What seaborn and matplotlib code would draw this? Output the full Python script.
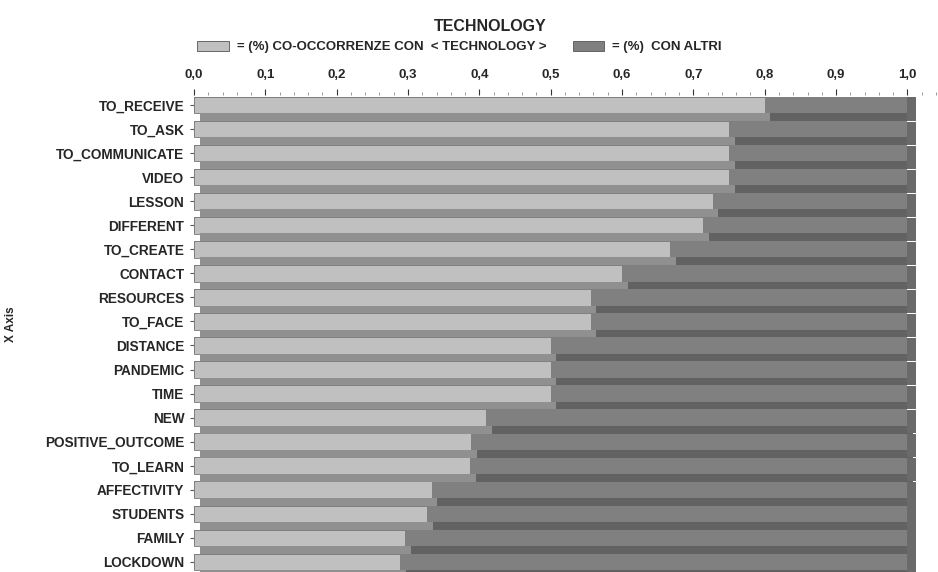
import matplotlib
matplotlib.use('Agg')
import matplotlib.pyplot as plt
import matplotlib.ticker as mticker
from matplotlib.patches import Patch
import seaborn as sns
import pandas as pd
import numpy as np

# Dati
parole = ['TO_RECEIVE', 'TO_ASK', 'TO_COMMUNICATE', 'VIDEO', 'LESSON', 'DIFFERENT',
          'TO_CREATE', 'CONTACT', 'RESOURCES', 'TO_FACE', 'DISTANCE', 'PANDEMIC',
          'TIME', 'NEW', 'POSITIVE_OUTCOME', 'TO_LEARN', 'AFFECTIVITY', 'STUDENTS',
          'FAMILY', 'LOCKDOWN']
cooccorrenze = [0.80, 0.75, 0.75, 0.75, 0.727, 0.714, 0.667, 0.60, 0.556, 0.556,
                0.50, 0.50, 0.50, 0.41, 0.389, 0.387, 0.333, 0.327, 0.296, 0.289]
altri = [round(1 - v, 3) for v in cooccorrenze]

df = pd.DataFrame({'Parola': parole, 'Technology': cooccorrenze, 'Altri': altri})
df['Totale'] = df['Technology'] + df['Altri']

sns.set_style('white')
plt.rcParams['font.family'] = ['Liberation Sans', 'DejaVu Sans']
plt.rcParams['font.weight'] = 'bold'

CHIARO = '#c0c0c0'
SCURO = '#808080'
OMBRA_CHIARO = '#909090'
OMBRA_SCURO = '#626262'

fig = plt.figure(figsize=(9.38, 5.72), dpi=100)
ax = fig.add_axes([0.2068, 0.0, 0.791, 0.834])

# barre "frontali" (totale scuro + parte chiara sopra)
sns.barplot(data=df, x='Totale', y='Parola', orient='h', color=SCURO,
            width=0.69, saturation=1, ax=ax, linewidth=0)
sns.barplot(data=df, x='Technology', y='Parola', orient='h', color=CHIARO,
            width=0.69, saturation=1, ax=ax, edgecolor='#7a7a7a', linewidth=0.6)

# effetto 3D: faccia inferiore e lato destro
pos = np.arange(len(df))
off = 0.008
ax.barh(pos + 0.50, df['Technology'], left=off, height=0.32, color=OMBRA_CHIARO, linewidth=0)
ax.barh(pos + 0.50, df['Altri'], left=df['Technology'] + off, height=0.32,
        color=OMBRA_SCURO, linewidth=0)
ax.barh(pos + 0.17, 0.012, left=df['Totale'], height=0.97, color='#6a6a6a', linewidth=0)

ax.set_xlim(0, 1.04)
ax.set_ylim(len(df) - 0.58, -0.42)

ax.xaxis.tick_top()
ax.xaxis.set_major_locator(mticker.FixedLocator(np.arange(0, 1.01, 0.1)))
ax.xaxis.set_minor_locator(mticker.FixedLocator(np.arange(0, 1.05, 0.02)))
ax.xaxis.set_major_formatter(mticker.FuncFormatter(lambda v, p: f'{v:.1f}'.replace('.', ',')))
ax.tick_params(axis='x', which='major', length=4, width=0.8, color='#333333',
               labelsize=9.5, pad=6, top=True, bottom=False)
ax.tick_params(axis='x', which='minor', length=2, width=0.6, color='#888888', top=True, bottom=False)
ax.tick_params(axis='y', length=3, width=0.8, color='#555555', labelsize=9.8, pad=4, left=True)
for lab in ax.get_xticklabels() + ax.get_yticklabels():
    lab.set_fontweight('bold')

for s in ax.spines.values():
    s.set_visible(False)

ax.set_xlabel('')
ax.set_ylabel('X Axis', fontsize=8.5, fontweight='bold')
ax.yaxis.set_label_coords(-0.238, 0.52)

fig.text(0.523, 0.953, 'TECHNOLOGY', ha='center', va='center', fontsize=11.5, fontweight='bold')
handles = [Patch(facecolor=CHIARO, edgecolor='#555555', linewidth=0.6),
           Patch(facecolor=SCURO, edgecolor='#555555', linewidth=0.6)]
fig.legend(handles, ['= (%) CO-OCCORRENZE CON  < TECHNOLOGY >', '= (%)  CON ALTRI'],
           loc='center', bbox_to_anchor=(0.49, 0.918), ncol=2, frameon=False,
           handlelength=2.4, handleheight=0.8, handletextpad=0.6, columnspacing=2.0,
           prop={'size': 9.5, 'weight': 'bold'})

plt.savefig('out.png', dpi=100)
